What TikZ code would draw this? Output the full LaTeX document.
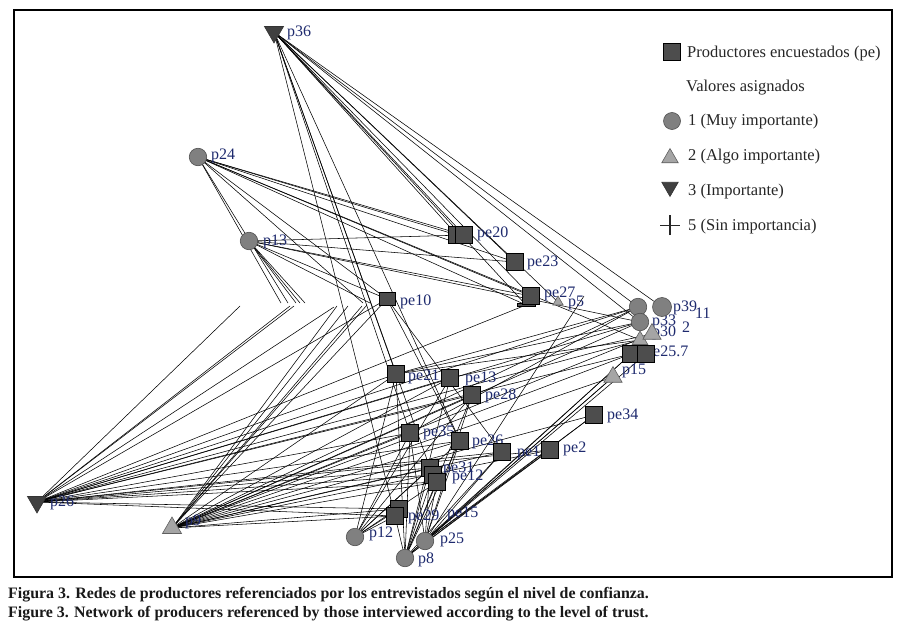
\documentclass[tikz,border=0pt]{standalone}
\usepackage{fontspec}
\setmainfont{Liberation Serif}
\usetikzlibrary{shapes.geometric}
\definecolor{labblue}{RGB}{30,42,110}
\definecolor{sqgray}{RGB}{77,77,77}
\definecolor{cigray}{RGB}{128,128,128}
\definecolor{ciline}{RGB}{80,80,80}
\definecolor{trilight}{RGB}{165,165,165}
\definecolor{triline}{RGB}{95,95,95}
\definecolor{tridark}{RGB}{64,64,64}
\begin{document}
\begin{tikzpicture}[x=1pt,y=-1pt,
  sq/.style={rectangle,draw=black,line width=0.6pt,fill=sqgray,minimum size=17pt,inner sep=0pt},
  ci/.style={circle,draw=ciline,line width=0.6pt,fill=cigray,minimum size=17.5pt,inner sep=0pt},
  tu/.style={regular polygon,regular polygon sides=3,draw=triline,line width=0.6pt,fill=trilight,minimum size=21pt,inner sep=0pt},
  tdn/.style={regular polygon,regular polygon sides=3,shape border rotate=180,draw=black!80,line width=0.6pt,fill=tridark,minimum size=22pt,inner sep=0pt},
  lab/.style={font=\fontsize{16}{18}\selectfont,text=labblue,inner sep=0pt,anchor=base west},
  legtxt/.style={font=\fontsize{16.5}{19}\selectfont,text=black!85,inner sep=0pt,anchor=base west},
  captxt/.style={font=\fontsize{15.9}{18}\selectfont\bfseries,text=black!90,inner sep=0pt,anchor=base west},
  edge/.style={line width=0.55pt,black}]
\useasboundingbox (0,0) rectangle (905,634);
\fill[white] (0,0) rectangle (905,634);
\draw[line width=1.1pt] (14,10) rectangle (892,577);

% node positions
\coordinate (p36) at (274,32);
\coordinate (p24) at (198,157);
\coordinate (p13) at (249,241);
\coordinate (pe10) at (387,299);
\coordinate (pe20a) at (457,235);
\coordinate (pe20) at (464,235);
\coordinate (pe23) at (515,262);
\coordinate (pe27) at (531,296);
\coordinate (pe27b) at (526,305);
\coordinate (p5) at (558,302);
\coordinate (pA) at (638,307);
\coordinate (p39) at (662,307);
\coordinate (p33) at (640,322);
\coordinate (p30) at (652,334);
\coordinate (p2) at (640,340);
\coordinate (pe25) at (631,354);
\coordinate (pe7) at (646,354);
\coordinate (p15) at (613,377);
\coordinate (pe34) at (594,415);
\coordinate (pe21) at (396,374);
\coordinate (pe13) at (450,378);
\coordinate (pe28) at (472,395);
\coordinate (pe35) at (410,433);
\coordinate (pe26) at (460,441);
\coordinate (pe1) at (502,452);
\coordinate (pe2) at (550,450);
\coordinate (pe31) at (430,468);
\coordinate (pe31b) at (433,475);
\coordinate (pe12) at (437,482);
\coordinate (pe29a) at (399,509);
\coordinate (pe29) at (395,516);
\coordinate (p12) at (355,537);
\coordinate (p25) at (425,541);
\coordinate (p8) at (405,558);
\coordinate (p26) at (37,502);
\coordinate (p9) at (172,528);
% free ends
\coordinate (fa) at (240,306);
\coordinate (fb) at (290,306);
\coordinate (fc) at (294,306);
\coordinate (fd) at (334,307);
\coordinate (fe) at (337,306);
\coordinate (fh) at (348,306);
\coordinate (ff) at (362,306);
\coordinate (fg) at (367,305);
\coordinate (ta) at (281,303);
\coordinate (tb) at (288,303);
\coordinate (tc) at (296,303);
\coordinate (td) at (300,303);
\coordinate (te) at (305,303);
\coordinate (tf) at (363,303);
\coordinate (tg) at (370,303);
\coordinate (fz) at (584,296);

% connectors
\foreach \a/\b in {p36/pe20a,p36/pe20,p36/pe23,p36/pe27,p36/p5,p36/pe27b,p36/pA,p36/p39,p36/p33,p36/pe21,p36/pe35,p36/pe31,p36/pe26,p36/pe29,
  p24/pe20a,p24/pe20,p24/pe23,p24/pe27,p24/pe27b,p24/pe10,p24/p2,p24/ta,p24/tb,p24/tf,
  p13/pe20,p13/pe23,p13/pe27,p13/pe10,p13/tc,p13/td,p13/te,p13/tg,p13/p33,
  p26/fa,p26/fb,p26/fc,p26/fd,p26/pe10,p26/pe21,p26/pe13,p26/pe28,p26/pe27b,p26/pA,p26/p33,p26/p2,p26/pe25,p26/pe35,p26/pe26,p26/pe1,p26/pe2,p26/pe31,p26/pe12,p26/pe29,p26/pe29a,p26/pe31b,
  p9/fe,p9/fh,p9/ff,p9/fg,p9/pe10,p9/pe21,p9/pe13,p9/pe28,p9/pA,p9/p33,p9/p30,p9/pe25,p9/p15,p9/pe35,p9/pe26,p9/pe1,p9/pe2,p9/pe34,p9/pe31,p9/pe12,p9/pe29,p9/pe29a,
  p12/pe21,p12/pe35,p12/pe31,p12/pe12,p12/pe29,p12/pe13,p12/pe26,p12/pe28,p12/pe29a,
  p8/pe29,p8/pe31,p8/pe12,p8/pe35,p8/pe26,p8/pe28,p8/pe13,p8/pe1,p8/pe2,p8/pe34,p8/p15,p8/pe25,p8/pe21,p8/pe31b,
  p25/pe31,p25/pe12,p25/pe26,p25/pe1,p25/pe2,p25/pe34,p25/p15,p25/pe25,p25/pe7,p25/fz,p25/pe35,p25/pe28,
  pe21/pA,pe21/p33,pe21/p2,pe35/pA,pe13/p30,pe10/pe1,pe10/pe26}
  \draw[edge] (\a) -- (\b);

% labels
\node[lab] (l-p36) at (287,37) {p36};
\node[lab] (l-p24) at (211,159) {p24};
\node[lab] (l-p13) at (263,245) {p13};
\node[lab] (l-pe10) at (400,305) {pe10};
\node[lab] (l-pe20) at (477,237) {pe20};
\node[lab] (l-pe23) at (527,266) {pe23};
\node[lab] (l-pe27) at (544,297) {pe27};
\node[lab] (l-p5) at (568,306) {p5};
\node[lab] (l-p39) at (673,311) {p39};
\node[lab] (l-11) at (695,318) {11};
\node[lab] (l-p33) at (652,325) {p33};
\node[lab] (l-p30) at (652,336) {p30};
\node[lab] (l-2) at (682,332) {2};
\node[lab] (l-pe25) at (645,356) {pe25.7};
\node[lab] (l-p15) at (622,374) {p15};
\node[lab] (l-pe34) at (607,419) {pe34};
\node[lab] (l-pe21) at (408,380) {pe21};
\node[lab] (l-pe13) at (465,382) {pe13};
\node[lab] (l-pe28) at (485,399) {pe28};
\node[lab] (l-pe35) at (423,436) {pe35};
\node[lab] (l-pe26) at (472,445) {pe26};
\node[lab] (l-pe1) at (517,456) {pe1};
\node[lab] (l-pe2) at (563,452) {pe2};
\node[lab] (l-pe31) at (443,472) {pe31};
\node[lab] (l-pe12) at (452,480) {pe12};
\node[lab] (l-pe29) at (408,520) {pe29};
\node[lab] (l-pe15) at (447,517) {pe15};
\node[lab] (l-p12) at (369,537) {p12};
\node[lab] (l-p25) at (440,543) {p25};
\node[lab] (l-p8) at (418,563) {p8};
\node[lab] (l-p26) at (50,506) {p26};
\node[lab] (l-p9) at (185,525) {p9};

% shapes
\node[tdn] (s-p36) at (p36) {};
\node[ci] (s-p24) at (p24) {};
\node[ci] (s-p13) at (p13) {};
\node[sq,minimum width=16pt,minimum height=12.5pt] (s-pe10) at (pe10) {};
\node[sq] (s-pe20a) at (pe20a) {};
\node[sq] (s-pe20) at (pe20) {};
\node[sq] (s-pe23) at (pe23) {};
\node[sq,minimum width=18pt,minimum height=3.5pt] (s-pe27b) at (pe27b) {};
\node[sq] (s-pe27) at (pe27) {};
\node[tu,minimum size=12pt] (s-p5) at (p5) {};
\node[ci] (s-pA) at (pA) {};
\node[ci,minimum size=19pt] (s-p39) at (p39) {};
\node[tu,minimum size=18pt] (s-p2) at (p2) {};
\node[ci] (s-p33) at (p33) {};
\node[tu] (s-p30) at (p30) {};
\node[sq] (s-pe25) at (pe25) {};
\node[sq] (s-pe7) at (pe7) {};
\node[tu] (s-p15) at (p15) {};
\node[sq] (s-pe34) at (pe34) {};
\node[sq] (s-pe21) at (pe21) {};
\node[sq] (s-pe13) at (pe13) {};
\node[sq] (s-pe28) at (pe28) {};
\node[sq] (s-pe35) at (pe35) {};
\node[sq] (s-pe26) at (pe26) {};
\node[sq] (s-pe1) at (pe1) {};
\node[sq] (s-pe2) at (pe2) {};
\node[sq] (s-pe31) at (pe31) {};
\node[sq] (s-pe31b) at (pe31b) {};
\node[sq] (s-pe12) at (pe12) {};
\node[sq] (s-pe29a) at (pe29a) {};
\node[sq] (s-pe29) at (pe29) {};
\node[ci] (s-p12) at (p12) {};
\node[ci] (s-p25) at (p25) {};
\node[ci] (s-p8) at (p8) {};
\node[tdn] (s-p26) at (p26) {};
\node[tu,minimum size=22pt] (s-p9) at (p9) {};

% legend
\node[sq,minimum size=17pt] (lg-sq) at (672,52) {};
\node[legtxt] (lg-t1) at (687,58) {Productores encuestados (pe)};
\node[legtxt] (lg-t0) at (686,92) {Valores asignados};
\node[ci,minimum size=17pt] (lg-ci) at (672,121) {};
\node[legtxt] (lg-t2) at (688,125) {1 (Muy importante)};
\node[tu,minimum size=19pt] (lg-tu) at (670,158) {};
\node[legtxt] (lg-t3) at (688,160) {2 (Algo importante)};
\node[tdn,minimum size=19pt] (lg-td) at (670,187) {};
\node[legtxt] (lg-t4) at (688,195) {3 (Importante)};
\coordinate (lg-pc) at (670,225);
\draw[line width=1pt,black!85] ([xshift=-10pt]lg-pc) -- ([xshift=10pt]lg-pc);
\draw[line width=1.4pt,black!85] ([yshift=-10pt]lg-pc) -- ([yshift=10pt]lg-pc);
\node[legtxt] (lg-t5) at (688,230) {5 (Sin importancia)};

% caption
\node[captxt] (cap1) at (8,598) {Figura 3. Redes de productores referenciados por los entrevistados según el nivel de confianza.};
\node[captxt] (cap2) at (8,617) {Figure 3. Network of producers referenced by those interviewed according to the level of trust.};
\end{tikzpicture}
\end{document}
